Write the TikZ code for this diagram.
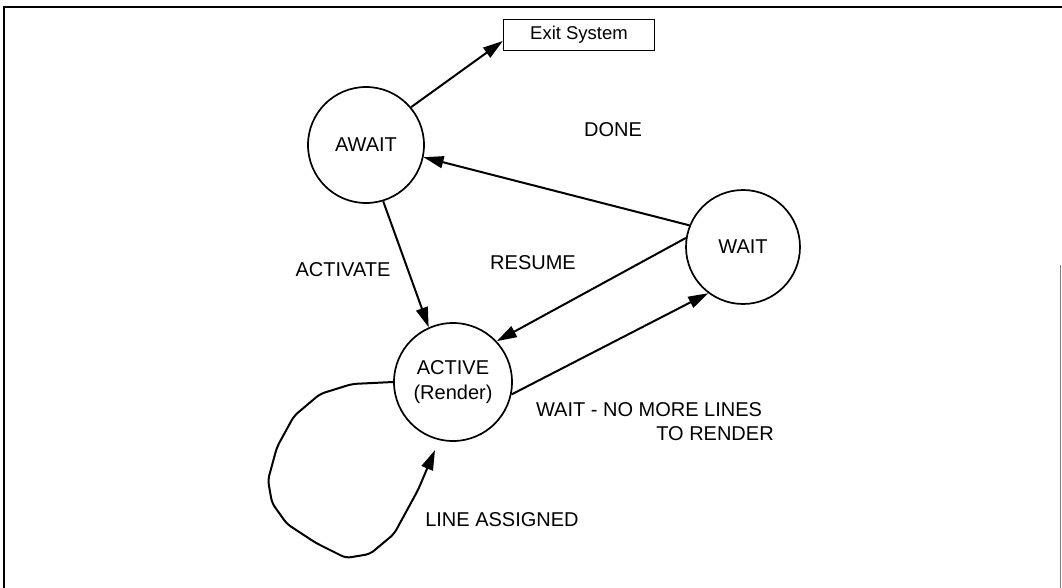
\documentclass[tikz,border=0pt]{standalone}
\usepackage{fontspec}
\setmainfont{Liberation Sans}
\usetikzlibrary{arrows.meta}
\begin{document}
\begin{tikzpicture}[x=1pt,y=-1pt,
  every node/.style={font=\fontsize{20}{24}\selectfont},
  state/.style={circle,draw,line width=1.7pt,minimum size=#1,inner sep=0pt},
  trans/.style={line width=2pt,-{Triangle[length=20pt,width=12pt]}},
  lbl/.style={inner sep=0pt}]
\useasboundingbox (0,0) rectangle (1062,588);
% outer frame
\draw[line width=1.2pt] (4,588) -- (4,7);
\draw[line width=2pt] (3,7) -- (1062,7);
\draw[line width=1pt,gray] (1060,265) -- (1060,588);

% states
\node[state=116pt] (await) at (366,145) {AWAIT};
\node[state=114pt] (wait) at (743,247) {WAIT};
\node[state=118pt,align=center,font=\fontsize{20}{25}\selectfont] (active) at (453,382) {ACTIVE\\(Render)};
\node[draw,line width=1.3pt,minimum width=151pt,minimum height=31pt,inner sep=0pt,
  font=\fontsize{18.5}{22}\selectfont] (exit) at (579,35) {Exit System};

% transitions
\draw[trans] (await.40) -- ([yshift=-6pt]exit.west);
\draw[trans] (wait.158) -- (await.348);
\draw[trans] (await.287) -- (active.114);
\draw[trans] (wait.171) -- (active.43);
\draw[trans] (active.348) -- (wait.233);

% self loop
\coordinate (looptip) at (435,450);
\draw[trans,rounded corners=5pt] (active.west) -- (352,384) -- (320,394) -- (294,416)
  -- (277,447) -- (268,480) -- (272,503) -- (287,524) -- (316,543) -- (346,558)
  -- (370,554) -- (394,534) -- (418,490) -- (looptip);

% labels
\node[lbl] (ldone) at (613,130) {DONE};
\node[lbl] (lactivate) at (343,270) {ACTIVATE};
\node[lbl] (lresume) at (533,263) {RESUME};
\node[lbl] (lwait1) at (649,410) {WAIT - NO MORE LINES};
\node[lbl] (lwait2) at (715,434) {TO RENDER};
\node[lbl] (lline) at (502,520) {LINE ASSIGNED};
\end{tikzpicture}
\end{document}
